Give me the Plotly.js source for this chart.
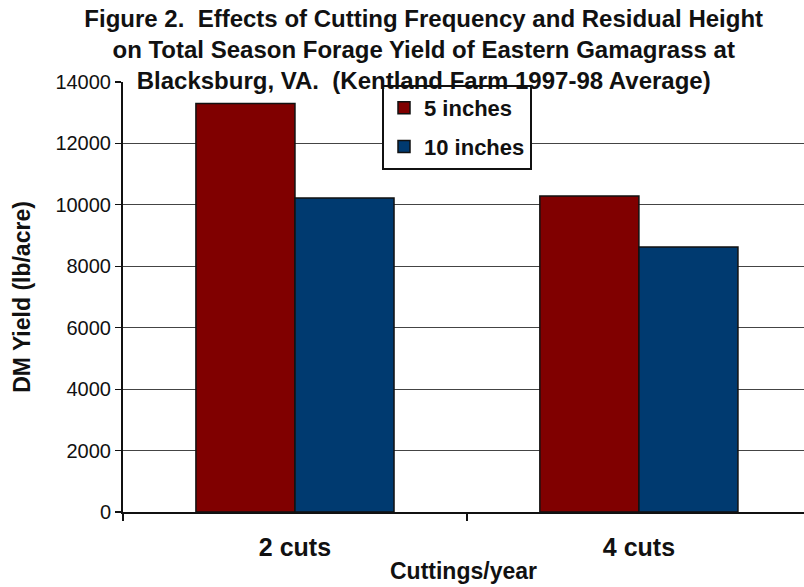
<!DOCTYPE html>
<html>
<head>
<meta charset="utf-8">
<script src="https://cdn.plot.ly/plotly-3.0.1.min.js"></script>
<style>html,body{margin:0;padding:0;background:#fff;}#chart{width:804px;height:587px;}</style>
</head>
<body>
<div id="chart"></div>
<script>
var categories = ["2 cuts", "4 cuts"];
var seriesNames = ["5 inches", "10 inches"];
var yield5in = [13300, 10290];
var yield10in = [10220, 8630];
var yTickVals = [0, 2000, 4000, 6000, 8000, 10000, 12000, 14000];

var FONT = "Liberation Sans, Arial, sans-serif";

var traces = [
  {type: "bar", name: seriesNames[0], x: categories, y: yield5in, legendgroup: "a",
   marker: {color: "#800000", line: {color: "#111", width: 1.5}}},
  {type: "bar", name: seriesNames[1], x: categories, y: yield10in, legendgroup: "b",
   marker: {color: "#003a70", line: {color: "#111", width: 1.5}}}
];

var layout = {
  width: 804, height: 587,
  paper_bgcolor: "#fff", plot_bgcolor: "#fff",
  margin: {l: 123, r: 0, t: 82, b: 75, autoexpand: false},
  font: {family: FONT, color: "#111"},
  title: {
    text: "Figure 2.  Effects of Cutting Frequency and Residual Height<br>on Total Season Forage Yield of Eastern Gamagrass at<br>Blacksburg, VA.  (Kentland Farm 1997-98 Average)",
    font: {family: FONT, size: 24, color: "#111", weight: "bold"},
    x: 0.527, xref: "container", xanchor: "center",
    y: 1 - 27/587, yref: "container", yanchor: "middle"
  },
  barmode: "group",
  bargap: 0.424,
  bargroupgap: 0,
  xaxis: {
    type: "category",
    range: [-0.5, 1.48],
    automargin: false,
    tickson: "boundaries",
    ticks: "outside", ticklen: 7, tickwidth: 1.5, tickcolor: "#111",
    ticklabelstandoff: 12,
    showline: true, linecolor: "#111", linewidth: 2,
    showgrid: false,
    tickfont: {family: FONT, size: 25, color: "#111", weight: "bold"},
    title: {text: "Cuttings/year", font: {family: FONT, size: 23, weight: "bold", color: "#111"}, standoff: 3}
  },
  yaxis: {
    range: [0, 14000],
    automargin: false,
    tickvals: yTickVals,
    tickformat: "d",
    ticks: "outside", ticklen: 6, tickwidth: 1.2, tickcolor: "#111",
    showline: true, linecolor: "#111", linewidth: 2,
    showgrid: true, gridcolor: "#444", gridwidth: 1,
    zeroline: false,
    tickfont: {family: FONT, size: 20, color: "#111"},
    title: {text: "DM Yield (lb/acre)", font: {family: FONT, size: 23, weight: "bold", color: "#111"}, standoff: 18}
  },
  legend: {
    x: (382 - 123) / 681, xref: "paper", xanchor: "left",
    y: (512 - 85) / 430, yref: "paper", yanchor: "top",
    bgcolor: "#fff", bordercolor: "#111", borderwidth: 2,
    font: {family: FONT, size: 22, color: "#111", weight: "bold"},
    tracegroupgap: 7,
    traceorder: "grouped"
  },
  shapes: [
    {type: "line", xref: "paper", yref: "y", x0: 0.003, x1: 0.979, y0: 14000, y1: 14000,
     line: {color: "#fff", width: 3}, layer: "below"}
  ],
  showlegend: true
};

Plotly.newPlot("chart", traces, layout, {displayModeBar: false, staticPlot: true});
</script>
</body>
</html>
